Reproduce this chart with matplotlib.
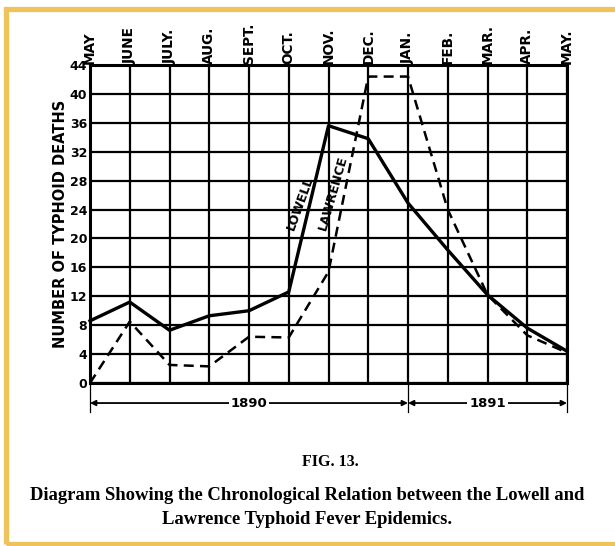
import matplotlib.pyplot as plt
from matplotlib.patches import Rectangle
import numpy as np

months = ['MAY', 'JUNE', 'JULY.', 'AUG.', 'SEPT.', 'OCT.', 'NOV.',
          'DEC.', 'JAN.', 'FEB.', 'MAR.', 'APR.', 'MAY.']
lowell = [8.6, 11.2, 7.3, 9.3, 10.0, 12.6, 35.6, 33.8, 24.9, 18.4, 12.2, 7.6, 4.4]
lawrence = [0.0, 8.5, 2.5, 2.3, 6.4, 6.3, 15.4, 42.4, 42.4, 24.0, 12.2, 6.6, 4.2]
year_spans = [('1890', 0, 8), ('1891', 8, 12)]
y_ticks = list(range(0, 45, 4))

x = np.arange(len(months))

fig = plt.figure(figsize=(6.15, 5.46), dpi=100)
ax = fig.add_axes([90 / 615, 1 - 383 / 546, 477 / 615, 318 / 546])

# grid
ax.set_xlim(0, 12)
ax.set_ylim(0, 44)
ax.set_xticks(x)
ax.set_yticks(y_ticks)
ax.grid(True, color='black', linewidth=1.6)
for s in ax.spines.values():
    s.set_linewidth(2.2)
ax.tick_params(length=0)
ax.xaxis.tick_top()
ax.set_xticklabels(months, rotation=90, fontsize=9.8, fontweight='bold',
                   va='bottom', ha='center')
ax.tick_params(axis='x', pad=1)
ax.set_yticklabels([str(v) for v in y_ticks], fontsize=9, fontweight='bold')
ax.tick_params(axis='y', pad=2)
ax.set_ylabel('NUMBER OF TYPHOID DEATHS', fontsize=10.5, fontweight='bold',
              labelpad=1)

# the two epidemics
ax.plot(x, lowell, color='black', linewidth=2.4, zorder=3, clip_on=False)
ax.plot(x, lawrence, color='black', linewidth=1.8, linestyle=(0, (4, 2.5)),
        zorder=3, clip_on=False)
ax.text(5.3, 24.8, 'LOWELL', rotation=70, fontsize=9, fontweight='bold',
        ha='center', va='center', zorder=4)
ax.text(6.12, 26.3, 'LAWRENCE', rotation=74, fontsize=9, fontweight='bold',
        ha='center', va='center', zorder=4)

# year ranges under the chart
tr = ax.get_xaxis_transform()
yy = -0.063
for label, a, b in year_spans:
    ax.annotate('', xy=(a, yy), xytext=(b, yy), xycoords=tr, textcoords=tr,
                arrowprops=dict(arrowstyle='<|-|>', color='black', lw=1.3,
                                mutation_scale=8, shrinkA=0, shrinkB=0),
                annotation_clip=False)
    ax.text((a + b) / 2, yy, label, transform=tr, fontsize=9.5, fontweight='bold',
            ha='center', va='center',
            bbox=dict(facecolor='white', edgecolor='none', pad=1.5))
for xv in [0, 8, 12]:
    ax.plot([xv, xv], [0, -0.09], transform=tr, color='black', linewidth=0.9,
            clip_on=False)

# caption
fig.text(330 / 615, 1 - 462 / 546, 'FIG. 13.', fontsize=11.5,
         family='Liberation Serif', fontweight='bold', ha='center', va='center')
fig.text(307 / 615, 1 - 496 / 546,
         'Diagram Showing the Chronological Relation between the Lowell and',
         fontsize=13.4, family='Liberation Serif', fontweight='bold',
         ha='center', va='center')
fig.text(307 / 615, 1 - 519 / 546, 'Lawrence Typhoid Fever Epidemics.',
         fontsize=13.4, family='Liberation Serif', fontweight='bold',
         ha='center', va='center')

# page border
fig.patches.append(Rectangle((5.5 / 615, 2.5 / 546), 1.2, 1 - 11.5 / 546,
                             transform=fig.transFigure, fill=False,
                             edgecolor='#EFC35C', linewidth=3.8))

fig.savefig('out.png', dpi=100)
